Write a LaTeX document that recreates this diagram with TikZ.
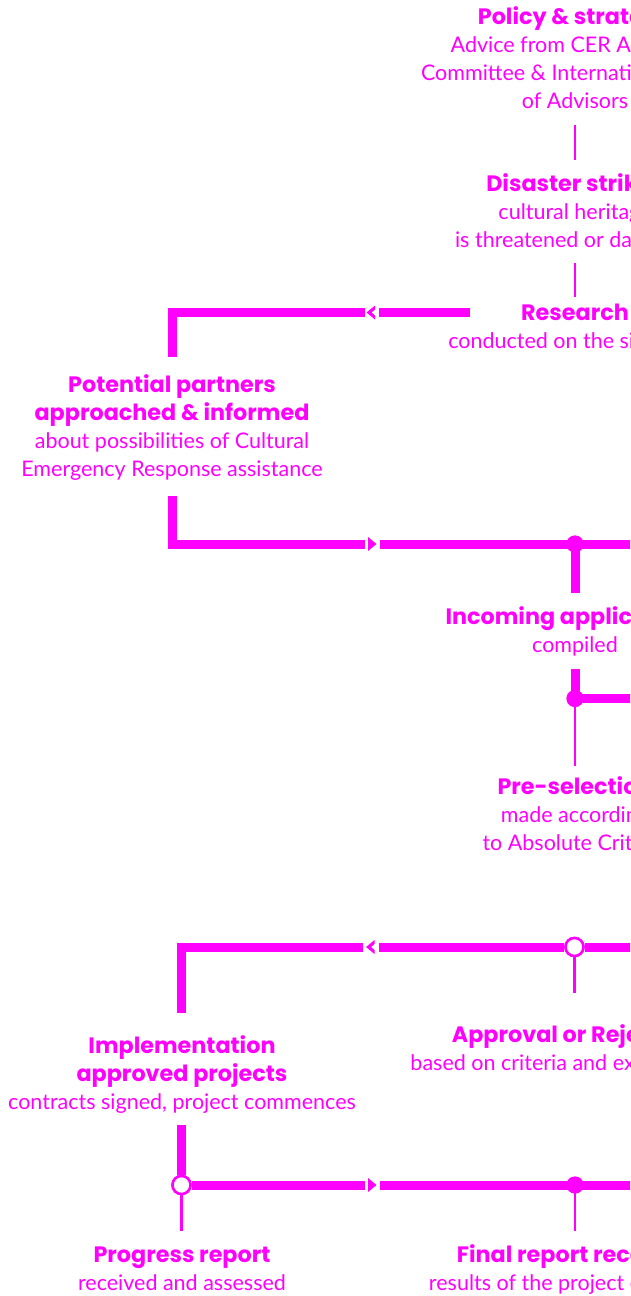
\documentclass[tikz,border=0pt]{standalone}
\usepackage{fontspec}
\setmainfont{Lato}
\newfontfamily\headfont{Poppins}
\definecolor{cer}{RGB}{255,0,255}
\newcommand{\hd}[1]{{\headfont\bfseries\fontsize{22.3}{28}\selectfont #1}}
\begin{document}
\begin{tikzpicture}[x=1pt,y=-1pt,
  stage/.style={text=cer, align=center, inner sep=0pt, anchor=base,
    font=\fontsize{21.5}{28}\selectfont},
  trunk/.style={draw=cer, line width=9pt, line cap=butt, line join=miter},
  twig/.style={draw=cer, line width=2.5pt, line cap=butt},
  hub/.style={circle, fill=cer, minimum size=17pt, inner sep=0pt},
  ring/.style={circle, fill=white, draw=cer, line width=2.5pt, minimum size=18pt, inner sep=0pt},
  flowleft/.pic={\fill[cer] (-4.5,0) -- (4,-7) -- (4,-3) -- (0.5,0) -- (4,3) -- (4,7) -- cycle;},
  flowright/.pic={\fill[cer] (-4,-7) -- (4.5,0) -- (-4,7) -- cycle;},
]
\useasboundingbox (0,0) rectangle (630,1296);
\clip (0,0) rectangle (630,1296);

% ---- stage descriptions (placed by the baseline of their last line) ----
\node[stage] (policy) at (575,108) {\hd{Policy \& strategy}\\Advice from CER Advisory\\Committee \& International Panel\\of Advisors};
\node[stage] (disaster) at (575,247) {\hd{Disaster strikes}\\cultural heritage\\is threatened or damaged};
\node[stage] (research) at (575,348) {\hd{Research}\\conducted on the situation};
\node[stage] (partners) at (172,476) {\hd{Potential partners}\\\hd{approached \& informed}\\about possibilities of Cultural\\Emergency Response assistance};
\node[stage] (incoming) at (575,652) {\hd{Incoming applications}\\compiled};
\node[stage] (presel) at (575,850) {\hd{Pre-selection}\\made according\\to Absolute Criteria};
\node[stage] (approval) at (575,1070) {\hd{Approval or Rejection}\\based on criteria and expert advice};
\node[stage] (implement) at (182,1109) {\hd{Implementation}\\\hd{approved projects}\\contracts signed, project commences};
\node[stage] (progress) at (182,1290) {\hd{Progress report}\\received and assessed};
\node[stage] (final) at (575,1290) {\hd{Final report received}\\results of the project evaluated};

% ---- connector end points ----
\coordinate (policy-foot) at (575,125);
\coordinate (disaster-head) at (575,160);
\coordinate (disaster-foot) at (575,263);
\coordinate (research-head) at (575,297);
\coordinate (research-out) at (470,312.5);
\coordinate (cA-in) at (379,312.5);
\coordinate (cA-out) at (365,312.5);
\coordinate (cornerA) at (172.5,312.5);
\coordinate (partners-head) at (172.5,357);
\coordinate (partners-foot) at (172.5,496);
\coordinate (cornerB) at (172.5,544);
\coordinate (cB-in) at (365,544);
\coordinate (cB-out) at (380,544);
\coordinate (edgeB) at (640,544);
\coordinate (incoming-head) at (575,593);
\coordinate (incoming-foot) at (575,669);
\coordinate (edgeC) at (640,698.5);
\coordinate (presel-head) at (575,766);
\coordinate (edgeD) at (640,947);
\coordinate (cD-in) at (379,947);
\coordinate (cD-out) at (363,947);
\coordinate (cornerD) at (181.5,947);
\coordinate (implement-head) at (181.5,1013);
\coordinate (approval-head) at (574.5,993);
\coordinate (implement-foot) at (181.5,1125);
\coordinate (cE-in) at (365,1185);
\coordinate (cE-out) at (380,1185);
\coordinate (edgeE) at (640,1185);
\coordinate (progress-head) at (181.5,1231);
\coordinate (final-head) at (575,1231);

% ---- junction markers ----
\node[hub] (hubB) at (575,544) {};
\node[hub] (hubC) at (575,698.5) {};
\node[ring] (ringD) at (574.5,947) {};
\node[ring] (ringE) at (181.5,1185) {};
\node[hub] (hubE) at (575,1185) {};

% ---- thin links ----
\draw[twig] (policy-foot) -- (disaster-head);
\draw[twig] (disaster-foot) -- (research-head);
\draw[twig] (hubC.center) -- (presel-head);
\draw[twig] (ringD) -- (approval-head);
\draw[twig] (ringE) -- (progress-head);
\draw[twig] (hubE.center) -- (final-head);

% ---- main routes ----
\draw[trunk] (research-out) -- (cA-in);
\draw[trunk] (cA-out) -- (cornerA) -- (partners-head);
\pic at (371,312.5) {flowleft};

\draw[trunk] (partners-foot) -- (cornerB) -- (cB-in);
\pic at (372,544) {flowright};
\draw[trunk] (cB-out) -- (edgeB);
\draw[trunk] (hubB.center) -- (incoming-head);

\draw[trunk] (incoming-foot) -- (hubC.center) -- (edgeC);

\draw[trunk] (edgeD) -- (ringD);
\draw[trunk] (ringD) -- (cD-in);
\draw[trunk] (cD-out) -- (cornerD) -- (implement-head);
\pic at (370.5,947) {flowleft};

\draw[trunk] (implement-foot) -- (ringE);
\draw[trunk] (ringE) -- (cE-in);
\pic at (372,1185) {flowright};
\draw[trunk] (cE-out) -- (edgeE);

% markers on top of the routes
\node[hub] at (hubB) {};
\node[hub] at (hubC) {};
\node[ring] at (ringD) {};
\node[ring] at (ringE) {};
\node[hub] at (hubE) {};
\end{tikzpicture}
\end{document}
